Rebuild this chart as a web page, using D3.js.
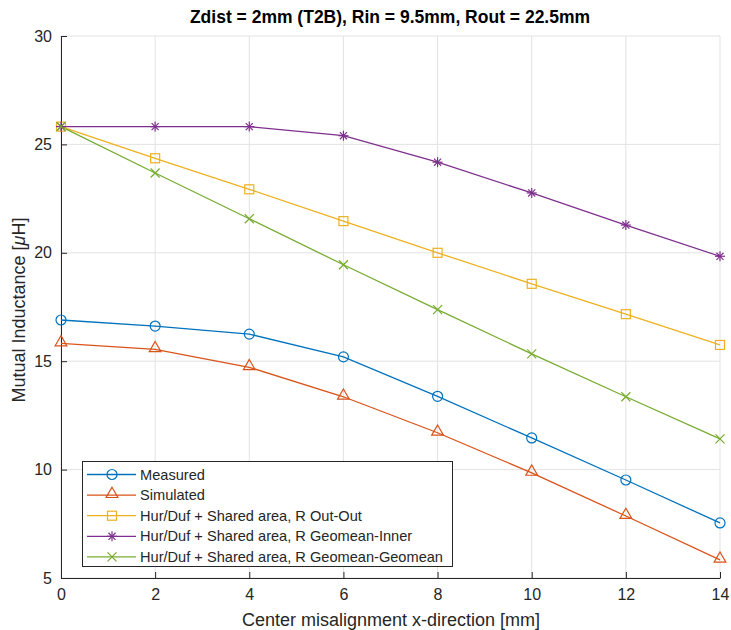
<!DOCTYPE html>
<html>
<head>
<meta charset="utf-8">
<script src="https://cdn.jsdelivr.net/npm/d3@7"></script>
<style>
  body { margin: 0; background: #fff; }
  svg { font-family: "Liberation Sans", Arial, sans-serif; }
</style>
</head>
<body>
<div id="chart"></div>
<script>
// data
const xVals = [0, 2, 4, 6, 8, 10, 12, 14];
const measured = [16.9, 16.62, 16.25, 15.2, 13.38, 11.46, 9.52, 7.54];
const simulated = [15.82, 15.55, 14.72, 13.36, 11.7, 9.85, 7.86, 5.84];
const outOut = [25.82, 24.36, 22.93, 21.46, 20.0, 18.57, 17.17, 15.75];
const geoInner = [25.82, 25.82, 25.82, 25.4, 24.18, 22.76, 21.28, 19.84];
const geoGeo = [25.82, 23.68, 21.57, 19.45, 17.38, 15.34, 13.36, 11.42];
const seriesNames = ["Measured", "Simulated", "Hur/Duf + Shared area, R Out-Out",
  "Hur/Duf + Shared area, R Geomean-Inner", "Hur/Duf + Shared area, R Geomean-Geomean"];
const xTicks = [0, 2, 4, 6, 8, 10, 12, 14];
const yTicks = [5, 10, 15, 20, 25, 30];

var series = [
  {name: seriesNames[0], values: measured, color: "#0072BD", marker: "circle"},
  {name: seriesNames[1], values: simulated, color: "#D95319", marker: "triangle"},
  {name: seriesNames[2], values: outOut, color: "#EDB120", marker: "square"},
  {name: seriesNames[3], values: geoInner, color: "#7E2F8E", marker: "star"},
  {name: seriesNames[4], values: geoGeo, color: "#77AC30", marker: "cross"}
];

const width = 731, height = 630;
const mLeft = 61, mRight = 720, mTop = 36, mBottom = 578;
const axisColor = "#262626";

const svg = d3.select("#chart").append("svg")
  .attr("width", width).attr("height", height);

const x = d3.scaleLinear().domain([0, 14]).range([mLeft, mRight]);
const y = d3.scaleLinear().domain([5, 30]).range([mBottom, mTop]);

// grid
svg.append("g").selectAll("line").data(xTicks).enter().append("line")
  .attr("x1", d => x(d)).attr("x2", d => x(d))
  .attr("y1", mTop).attr("y2", mBottom)
  .attr("stroke", "#e3e3e3").attr("stroke-width", 1);
svg.append("g").selectAll("line").data(yTicks).enter().append("line")
  .attr("x1", mLeft).attr("x2", mRight)
  .attr("y1", d => y(d)).attr("y2", d => y(d))
  .attr("stroke", "#e3e3e3").attr("stroke-width", 1);

// axes (ticks inside like matlab)
const xAxis = svg.append("g")
  .attr("transform", "translate(0," + mBottom + ")")
  .call(d3.axisBottom(x).tickValues(xTicks).tickSizeInner(-6).tickSizeOuter(0).tickPadding(11));
const yAxis = svg.append("g")
  .attr("transform", "translate(" + mLeft + ",0)")
  .call(d3.axisLeft(y).tickValues(yTicks).tickSizeInner(-6).tickSizeOuter(0).tickPadding(9));
[xAxis, yAxis].forEach(a => {
  a.select(".domain").attr("stroke", axisColor);
  a.selectAll(".tick line").attr("stroke", axisColor);
  a.selectAll(".tick text").attr("fill", axisColor)
    .style("font-size", "16px").style("font-family", "Liberation Sans, Arial, sans-serif");
});

// lines
const line = d3.line().x((d, i) => x(xVals[i])).y(d => y(d));
series.forEach(s => {
  svg.append("path").datum(s.values)
    .attr("d", line).attr("fill", "none")
    .attr("stroke", s.color).attr("stroke-width", 1.3);
});

function drawMarker(g, type, cx, cy, color) {
  if (type === "circle") {
    g.append("circle").attr("cx", cx).attr("cy", cy).attr("r", 5)
      .attr("fill", "none").attr("stroke", color).attr("stroke-width", 1.2);
  } else if (type === "triangle") {
    g.append("path").attr("d", d3.symbol().type(d3.symbolTriangle).size(60)())
      .attr("transform", "translate(" + cx + "," + (cy - 1) + ")")
      .attr("fill", "none").attr("stroke", color).attr("stroke-width", 1.2);
  } else if (type === "square") {
    g.append("rect").attr("x", cx - 4.5).attr("y", cy - 4.5).attr("width", 9).attr("height", 9)
      .attr("fill", "none").attr("stroke", color).attr("stroke-width", 1.2);
  } else if (type === "star") {
    const r = 5;
    [0, 45, 90, 135].forEach(a => {
      const rad = a * Math.PI / 180;
      g.append("line")
        .attr("x1", cx - r * Math.cos(rad)).attr("y1", cy - r * Math.sin(rad))
        .attr("x2", cx + r * Math.cos(rad)).attr("y2", cy + r * Math.sin(rad))
        .attr("stroke", color).attr("stroke-width", 1.2);
    });
  } else if (type === "cross") {
    const r = 4.5;
    g.append("line").attr("x1", cx - r).attr("y1", cy - r).attr("x2", cx + r).attr("y2", cy + r)
      .attr("stroke", color).attr("stroke-width", 1.2);
    g.append("line").attr("x1", cx - r).attr("y1", cy + r).attr("x2", cx + r).attr("y2", cy - r)
      .attr("stroke", color).attr("stroke-width", 1.2);
  }
}

series.forEach(s => {
  const g = svg.append("g");
  s.values.forEach((v, i) => drawMarker(g, s.marker, x(xVals[i]), y(v), s.color));
});

// legend
const lg = svg.append("g");
lg.append("rect").attr("x", 82.5).attr("y", 461.5).attr("width", 370).attr("height", 105)
  .attr("fill", "#fff").attr("stroke", axisColor).attr("stroke-width", 1);
series.forEach((s, i) => {
  const ly = 474.5 + i * 20.6;
  lg.append("line").attr("x1", 87).attr("x2", 136).attr("y1", ly).attr("y2", ly)
    .attr("stroke", s.color).attr("stroke-width", 1.3);
  drawMarker(lg, s.marker, 112, ly, s.color);
  lg.append("text").attr("x", 140).attr("y", ly + 5)
    .attr("fill", axisColor).style("font-size", "14.6px").text(s.name);
});

// title and labels
svg.append("text").attr("x", 390).attr("y", 23)
  .attr("text-anchor", "middle").attr("font-weight", "bold")
  .attr("fill", "#000").style("font-size", "17.5px")
  .text("Zdist = 2mm (T2B), Rin = 9.5mm, Rout = 22.5mm");
svg.append("text").attr("x", 391).attr("y", 626)
  .attr("text-anchor", "middle").attr("fill", axisColor).style("font-size", "18px")
  .text("Center misalignment x-direction [mm]");
const yl = svg.append("text").attr("transform", "translate(25,310) rotate(-90)")
  .attr("text-anchor", "middle").attr("fill", axisColor).style("font-size", "18px");
yl.append("tspan").text("Mutual Inductance [");
yl.append("tspan").attr("font-style", "italic").text("μ");
yl.append("tspan").text("H]");
</script>
</body>
</html>
